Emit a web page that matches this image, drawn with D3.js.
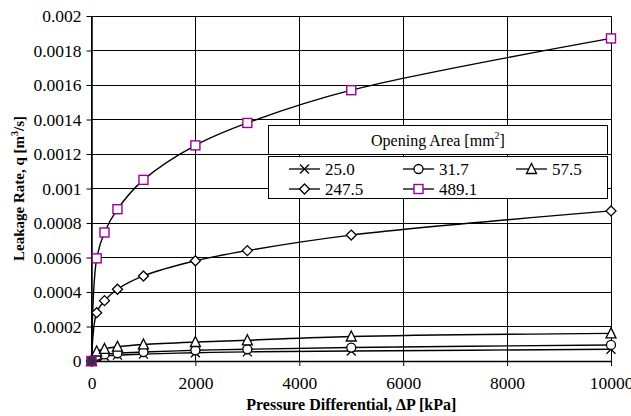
<!DOCTYPE html>
<html>
<head>
<meta charset="utf-8">
<script src="https://cdn.jsdelivr.net/npm/d3@7"></script>
<style>
  body { margin: 0; background: #fff; }
  svg text { font-family: "Liberation Serif", "Times New Roman", serif !important; }
</style>
</head>
<body>
<div id="chart"></div>
<script>
// values
const pressure = [0, 100, 250, 500, 1000, 2000, 3000, 5000, 10000];
const areaLabels = ["25.0", "31.7", "57.5", "247.5", "489.1"];
const leak25 = [0, 0.000022, 0.000028, 0.000034, 0.00004, 0.000048, 0.000053, 0.000058, 0.000068];
const leak31 = [0, 0.00003, 0.000038, 0.000045, 0.000052, 0.000062, 0.000068, 0.000078, 0.000093];
const leak57 = [0, 0.000055, 0.00007, 0.000083, 0.000096, 0.00011, 0.00012, 0.000142, 0.00016];
const leak247 = [0, 0.00028, 0.00035, 0.000416, 0.000493, 0.000581, 0.00064, 0.00073, 0.00087];
const leak489 = [0, 0.000595, 0.000745, 0.00088, 0.00105, 0.00125, 0.00138, 0.00157, 0.00187];
const xTicks = [0, 2000, 4000, 6000, 8000, 10000];
const yTicks = [0, 0.0002, 0.0004, 0.0006, 0.0008, 0.001, 0.0012, 0.0014, 0.0016, 0.0018, 0.002];

const width = 631, height = 416;
const margin = {top: 16, right: 20, bottom: 55, left: 91.5};

const series = [
  {name: areaLabels[0], values: leak25, marker: "cross", color: "#000"},
  {name: areaLabels[1], values: leak31, marker: "circle", color: "#000"},
  {name: areaLabels[2], values: leak57, marker: "triangle", color: "#000"},
  {name: areaLabels[3], values: leak247, marker: "diamond", color: "#000"},
  {name: areaLabels[4], values: leak489, marker: "square", color: "#990099"}
];

const svg = d3.select("#chart").append("svg")
  .attr("width", width)
  .attr("height", height)
  .attr("viewBox", [0, 0, width, height]);

const x = d3.scaleLinear().domain([0, 10000]).range([margin.left, width - margin.right]);
const y = d3.scaleLinear().domain([0, 0.002]).range([height - margin.bottom, margin.top]);

// grid
svg.append("g")
  .attr("stroke", "#000").attr("stroke-width", 1).attr("shape-rendering", "crispEdges")
  .selectAll("line.h").data(yTicks).join("line")
  .attr("x1", x(0)).attr("x2", x(10000))
  .attr("y1", d => y(d)).attr("y2", d => y(d));
svg.append("g")
  .attr("stroke", "#000").attr("stroke-width", 1).attr("shape-rendering", "crispEdges")
  .selectAll("line.v").data(xTicks).join("line")
  .attr("x1", d => x(d)).attr("x2", d => x(d))
  .attr("y1", y(0.002)).attr("y2", y(0));

// axes
const xAxis = svg.append("g")
  .attr("transform", `translate(0,${y(0)})`)
  .call(d3.axisBottom(x).tickValues(xTicks).tickFormat(d3.format("d")).tickSize(5).tickSizeOuter(0).tickPadding(11));
const yAxis = svg.append("g")
  .attr("transform", `translate(${x(0)},0)`)
  .call(d3.axisLeft(y).tickValues(yTicks).tickFormat(d => d === 0 ? "0" : String(+d.toFixed(4))).tickSize(5).tickSizeOuter(0).tickPadding(5));
[xAxis, yAxis].forEach(a => {
  a.attr("font-family", null);
  a.select(".domain").attr("stroke", "#000").attr("stroke-width", 1.5);
  a.selectAll(".tick line").attr("stroke", "#000");
  a.selectAll("text").attr("font-size", 17.5).attr("fill", "#000");
});
yAxis.selectAll("text").attr("dy", "0.34em");

// series lines
const line = d3.line()
  .x((d, i) => x(pressure[i]))
  .y(d => y(d))
  .curve(d3.curveCatmullRom.alpha(0.5));

svg.append("g")
  .selectAll("path").data(series).join("path")
  .attr("fill", "none")
  .attr("stroke", "#000")
  .attr("stroke-width", 1.4)
  .attr("d", d => line(d.values));

function drawMarker(g, type, color, fill) {
  const s = 4.5;
  if (type === "cross") {
    g.append("path").attr("d", `M${-s},${-s}L${s},${s}M${-s},${s}L${s},${-s}`)
      .attr("stroke", color).attr("stroke-width", 1.3).attr("fill", "none");
  } else if (type === "circle") {
    g.append("circle").attr("r", s).attr("fill", fill).attr("stroke", color).attr("stroke-width", 1.3);
  } else if (type === "triangle") {
    g.append("path").attr("d", `M0,${-s - 1}L${s + 0.5},${s}L${-s - 0.5},${s}Z`)
      .attr("fill", fill).attr("stroke", color).attr("stroke-width", 1.3);
  } else if (type === "diamond") {
    g.append("path").attr("d", `M0,${-s - 0.5}L${s + 0.5},0L0,${s + 0.5}L${-s - 0.5},0Z`)
      .attr("fill", fill).attr("stroke", color).attr("stroke-width", 1.3);
  } else if (type === "square") {
    g.append("rect").attr("x", -s).attr("y", -s).attr("width", 2 * s).attr("height", 2 * s)
      .attr("fill", fill).attr("stroke", color).attr("stroke-width", 1.4);
  }
}

// markers
series.forEach(s => {
  const mg = svg.append("g");
  s.values.forEach((v, i) => {
    const g = mg.append("g").attr("transform", `translate(${x(pressure[i])},${y(v)})`);
    drawMarker(g, s.marker, s.color, pressure[i] === 0 ? "#333" : "#fff");
  });
});

// legend
const lg = svg.append("g");
lg.append("rect").attr("x", 268.5).attr("y", 125.5).attr("width", 339).attr("height", 29)
  .attr("fill", "#fff").attr("stroke", "#000").attr("stroke-width", 1);
const title = lg.append("text").attr("x", 438).attr("y", 145.5).attr("text-anchor", "middle")
  .attr("font-size", 16).attr("fill", "#000");
title.append("tspan").text("Opening Area [mm");
title.append("tspan").attr("font-size", 10).attr("dy", -7).text("2");
title.append("tspan").attr("dy", 7).text("]");

lg.append("rect").attr("x", 268.5).attr("y", 156.5).attr("width", 339).attr("height", 42)
  .attr("fill", "#fff").attr("stroke", "#000").attr("stroke-width", 1);

const colX = [289, 403, 516];
const rowY = [169, 189];
series.forEach((s, i) => {
  const cx = colX[i % 3], cy = rowY[Math.floor(i / 3)];
  const g = lg.append("g").attr("transform", `translate(${cx},${cy})`);
  g.append("line").attr("x1", 0).attr("x2", 31).attr("stroke", "#000").attr("stroke-width", 1.3);
  drawMarker(g.append("g").attr("transform", "translate(15.5,0)"), s.marker, s.color, "#fff");
  g.append("text").attr("x", 36).attr("y", 6).attr("font-size", 17).attr("fill", "#000").text(s.name);
});

// axis titles
svg.append("text")
  .attr("x", (x(0) + x(10000)) / 2).attr("y", 410)
  .attr("text-anchor", "middle").attr("font-weight", "bold").attr("font-size", 16).attr("fill", "#000")
  .text("Pressure Differential, ΔP [kPa]");

const yt = svg.append("text")
  .attr("transform", `translate(24,${(y(0) + y(0.002)) / 2}) rotate(-90)`)
  .attr("text-anchor", "middle").attr("font-weight", "bold").attr("font-size", 15).attr("fill", "#000");
yt.append("tspan").text("Leakage Rate, q [m");
yt.append("tspan").attr("font-size", 10).attr("dy", -6).text("3");
yt.append("tspan").attr("dy", 6).text("/s]");
</script>
</body>
</html>
